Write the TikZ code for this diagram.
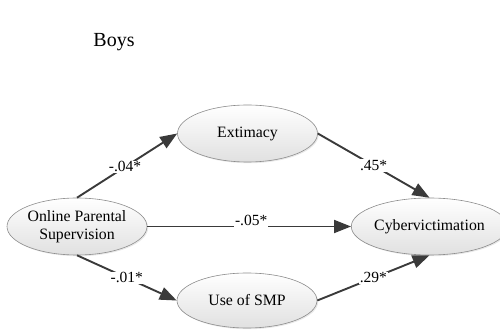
\documentclass[tikz,border=0pt]{standalone}
\usepackage{fontspec}
\setmainfont{Liberation Serif}
\usetikzlibrary{arrows.meta,shapes.geometric,shadows}
\definecolor{linegray}{HTML}{3A3A3A}
\definecolor{bordergray}{HTML}{8C8C8C}
\tikzset{
  varnode/.style={ellipse, draw=bordergray, line width=0.6pt, inner sep=0pt,
    minimum width=140pt, minimum height=57pt, top color=white, bottom color=black!12,
    drop shadow={opacity=0.18, shadow xshift=1.2pt, shadow yshift=-1.2pt},
    font=\fontsize{15.8}{17.7}\selectfont, align=center, text=black},
  path/.style={draw=linegray, line width=1.9pt, -{Triangle[length=17pt,width=13pt]}},
  coef/.style={fill=white, inner sep=1pt, font=\fontsize{15.5}{17}\selectfont, text=black}
}
\begin{document}
\begin{tikzpicture}[x=1pt,y=1pt]
\useasboundingbox (0,0) rectangle (500,329);
\node[font=\fontsize{20}{22}\selectfont] (title) at (114,287) {Boys};
\node[varnode] (online) at (77,102.5) {Online Parental\\Supervision};
\node[varnode] (ext) at (247.5,195.5) {Extimacy};
\node[varnode, minimum width=136pt] (cyber) at (429.5,102.5) {Cybervictimation};
\node[varnode, minimum height=55pt] (smp) at (247,28.5) {Use of SMP};
\draw[path] (online.north) -- node[coef, pos=0.48] (l1) {-.04*} (ext.west);
\draw[path] (ext.east) -- node[coef, pos=0.5] (l2) {.45*} (cyber.north);
\draw[path] (online.east) -- node[coef, pos=0.51, yshift=6pt] (l3) {-.05*} (cyber.west);
\draw[path] (online.south) -- node[coef, pos=0.5] (l4) {-.01*} (smp.west);
\draw[path] (smp.east) -- node[coef, pos=0.5] (l5) {.29*} (cyber.south);
\end{tikzpicture}
\end{document}
